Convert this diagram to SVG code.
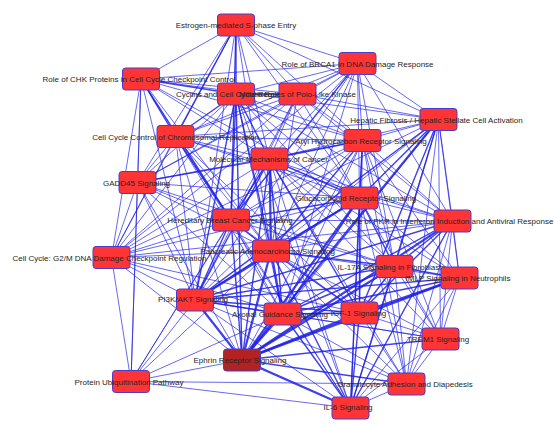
<svg xmlns="http://www.w3.org/2000/svg" width="554" height="426" viewBox="0 0 554 426">
<style>
.bg{fill:#ffffff}
#edges line{stroke:#1f1fe6;stroke-opacity:0.85;stroke-width:0.8;stroke-linecap:round}
#edges line.m{stroke-width:1.4}
#edges line.t{stroke-width:2.2}
.n rect{fill:#ff3434;stroke:#4a3ccf;stroke-width:1}
.n.dark rect{fill:#b22222}
.n text{font-family:"Liberation Sans",Arial,sans-serif;font-size:8px;fill:#262626;text-anchor:middle}
</style>
<rect class="bg" x="0" y="0" width="554" height="426"/>
<g id="edges">
<line x1="236" y1="25" x2="141" y2="79"/>
<line x1="236" y1="25" x2="236" y2="94" class="m"/>
<line x1="236" y1="25" x2="297.5" y2="94"/>
<line x1="236" y1="25" x2="357.5" y2="63.5"/>
<line x1="236" y1="25" x2="175.5" y2="136.5" class="m"/>
<line x1="236" y1="25" x2="137.5" y2="182.5"/>
<line x1="236" y1="25" x2="269.5" y2="159"/>
<line x1="236" y1="25" x2="231" y2="220" class="m"/>
<line x1="236" y1="25" x2="111.5" y2="257.5"/>
<line x1="236" y1="25" x2="271" y2="251"/>
<line x1="236" y1="25" x2="362.5" y2="140.5"/>
<line x1="236" y1="25" x2="359.5" y2="198"/>
<line x1="236" y1="25" x2="195" y2="300"/>
<line x1="236" y1="25" x2="438.5" y2="119.5"/>
<line x1="141" y1="79" x2="236" y2="94" class="m"/>
<line x1="141" y1="79" x2="297.5" y2="94"/>
<line x1="141" y1="79" x2="357.5" y2="63.5"/>
<line x1="141" y1="79" x2="175.5" y2="136.5" class="m"/>
<line x1="141" y1="79" x2="137.5" y2="182.5"/>
<line x1="141" y1="79" x2="269.5" y2="159"/>
<line x1="141" y1="79" x2="231" y2="220" class="m"/>
<line x1="141" y1="79" x2="111.5" y2="257.5"/>
<line x1="141" y1="79" x2="271" y2="251"/>
<line x1="141" y1="79" x2="362.5" y2="140.5"/>
<line x1="141" y1="79" x2="195" y2="300"/>
<line x1="141" y1="79" x2="131" y2="381.5"/>
<line x1="141" y1="79" x2="359.5" y2="198"/>
<line x1="141" y1="79" x2="438.5" y2="119.5"/>
<line x1="236" y1="94" x2="297.5" y2="94" class="m"/>
<line x1="236" y1="94" x2="357.5" y2="63.5"/>
<line x1="236" y1="94" x2="175.5" y2="136.5" class="m"/>
<line x1="236" y1="94" x2="137.5" y2="182.5"/>
<line x1="236" y1="94" x2="269.5" y2="159" class="m"/>
<line x1="236" y1="94" x2="231" y2="220" class="m"/>
<line x1="236" y1="94" x2="111.5" y2="257.5"/>
<line x1="236" y1="94" x2="271" y2="251" class="m"/>
<line x1="236" y1="94" x2="362.5" y2="140.5"/>
<line x1="236" y1="94" x2="359.5" y2="198"/>
<line x1="236" y1="94" x2="195" y2="300" class="m"/>
<line x1="236" y1="94" x2="282.5" y2="314"/>
<line x1="236" y1="94" x2="394.5" y2="266.5"/>
<line x1="236" y1="94" x2="242" y2="360" class="m"/>
<line x1="236" y1="94" x2="350.5" y2="408"/>
<line x1="236" y1="94" x2="452.5" y2="221"/>
<line x1="297.5" y1="94" x2="357.5" y2="63.5"/>
<line x1="297.5" y1="94" x2="175.5" y2="136.5"/>
<line x1="297.5" y1="94" x2="137.5" y2="182.5"/>
<line x1="297.5" y1="94" x2="269.5" y2="159"/>
<line x1="297.5" y1="94" x2="231" y2="220"/>
<line x1="297.5" y1="94" x2="111.5" y2="257.5"/>
<line x1="297.5" y1="94" x2="271" y2="251"/>
<line x1="297.5" y1="94" x2="362.5" y2="140.5"/>
<line x1="297.5" y1="94" x2="359.5" y2="198"/>
<line x1="297.5" y1="94" x2="195" y2="300"/>
<line x1="297.5" y1="94" x2="438.5" y2="119.5"/>
<line x1="297.5" y1="94" x2="452.5" y2="221"/>
<line x1="357.5" y1="63.5" x2="175.5" y2="136.5"/>
<line x1="357.5" y1="63.5" x2="269.5" y2="159"/>
<line x1="357.5" y1="63.5" x2="231" y2="220" class="m"/>
<line x1="357.5" y1="63.5" x2="137.5" y2="182.5"/>
<line x1="357.5" y1="63.5" x2="111.5" y2="257.5"/>
<line x1="357.5" y1="63.5" x2="362.5" y2="140.5"/>
<line x1="357.5" y1="63.5" x2="359.5" y2="198"/>
<line x1="357.5" y1="63.5" x2="438.5" y2="119.5"/>
<line x1="357.5" y1="63.5" x2="452.5" y2="221"/>
<line x1="357.5" y1="63.5" x2="271" y2="251"/>
<line x1="357.5" y1="63.5" x2="195" y2="300"/>
<line x1="357.5" y1="63.5" x2="394.5" y2="266.5"/>
<line x1="357.5" y1="63.5" x2="282.5" y2="314"/>
<line x1="438.5" y1="119.5" x2="362.5" y2="140.5"/>
<line x1="438.5" y1="119.5" x2="359.5" y2="198" class="m"/>
<line x1="438.5" y1="119.5" x2="452.5" y2="221"/>
<line x1="438.5" y1="119.5" x2="459.5" y2="278"/>
<line x1="438.5" y1="119.5" x2="394.5" y2="266.5" class="m"/>
<line x1="438.5" y1="119.5" x2="359.5" y2="313" class="m"/>
<line x1="438.5" y1="119.5" x2="440.5" y2="339"/>
<line x1="438.5" y1="119.5" x2="406.5" y2="384"/>
<line x1="438.5" y1="119.5" x2="350.5" y2="408"/>
<line x1="438.5" y1="119.5" x2="282.5" y2="314"/>
<line x1="438.5" y1="119.5" x2="242" y2="360" class="t"/>
<line x1="438.5" y1="119.5" x2="271" y2="251"/>
<line x1="438.5" y1="119.5" x2="269.5" y2="159"/>
<line x1="438.5" y1="119.5" x2="195" y2="300" class="m"/>
<line x1="438.5" y1="119.5" x2="231" y2="220"/>
<line x1="438.5" y1="119.5" x2="175.5" y2="136.5"/>
<line x1="175.5" y1="136.5" x2="137.5" y2="182.5"/>
<line x1="175.5" y1="136.5" x2="269.5" y2="159"/>
<line x1="175.5" y1="136.5" x2="231" y2="220" class="m"/>
<line x1="175.5" y1="136.5" x2="111.5" y2="257.5"/>
<line x1="175.5" y1="136.5" x2="271" y2="251"/>
<line x1="175.5" y1="136.5" x2="362.5" y2="140.5"/>
<line x1="175.5" y1="136.5" x2="359.5" y2="198"/>
<line x1="175.5" y1="136.5" x2="195" y2="300"/>
<line x1="175.5" y1="136.5" x2="282.5" y2="314"/>
<line x1="175.5" y1="136.5" x2="242" y2="360"/>
<line x1="175.5" y1="136.5" x2="350.5" y2="408"/>
<line x1="175.5" y1="136.5" x2="452.5" y2="221"/>
<line x1="175.5" y1="136.5" x2="359.5" y2="313"/>
<line x1="362.5" y1="140.5" x2="269.5" y2="159" class="m"/>
<line x1="362.5" y1="140.5" x2="359.5" y2="198" class="m"/>
<line x1="362.5" y1="140.5" x2="231" y2="220"/>
<line x1="362.5" y1="140.5" x2="271" y2="251" class="m"/>
<line x1="362.5" y1="140.5" x2="452.5" y2="221"/>
<line x1="362.5" y1="140.5" x2="394.5" y2="266.5"/>
<line x1="362.5" y1="140.5" x2="459.5" y2="278"/>
<line x1="362.5" y1="140.5" x2="359.5" y2="313"/>
<line x1="362.5" y1="140.5" x2="440.5" y2="339"/>
<line x1="362.5" y1="140.5" x2="406.5" y2="384"/>
<line x1="362.5" y1="140.5" x2="350.5" y2="408"/>
<line x1="362.5" y1="140.5" x2="282.5" y2="314"/>
<line x1="362.5" y1="140.5" x2="242" y2="360"/>
<line x1="362.5" y1="140.5" x2="195" y2="300"/>
<line x1="362.5" y1="140.5" x2="137.5" y2="182.5"/>
<line x1="362.5" y1="140.5" x2="111.5" y2="257.5"/>
<line x1="269.5" y1="159" x2="137.5" y2="182.5" class="m"/>
<line x1="269.5" y1="159" x2="359.5" y2="198" class="m"/>
<line x1="269.5" y1="159" x2="231" y2="220" class="m"/>
<line x1="269.5" y1="159" x2="452.5" y2="221"/>
<line x1="269.5" y1="159" x2="111.5" y2="257.5"/>
<line x1="269.5" y1="159" x2="271" y2="251" class="t"/>
<line x1="269.5" y1="159" x2="394.5" y2="266.5"/>
<line x1="269.5" y1="159" x2="459.5" y2="278"/>
<line x1="269.5" y1="159" x2="195" y2="300" class="m"/>
<line x1="269.5" y1="159" x2="282.5" y2="314" class="m"/>
<line x1="269.5" y1="159" x2="359.5" y2="313" class="m"/>
<line x1="269.5" y1="159" x2="440.5" y2="339"/>
<line x1="269.5" y1="159" x2="242" y2="360" class="m"/>
<line x1="269.5" y1="159" x2="406.5" y2="384"/>
<line x1="269.5" y1="159" x2="350.5" y2="408"/>
<line x1="269.5" y1="159" x2="131" y2="381.5"/>
<line x1="137.5" y1="182.5" x2="231" y2="220"/>
<line x1="137.5" y1="182.5" x2="111.5" y2="257.5"/>
<line x1="137.5" y1="182.5" x2="271" y2="251"/>
<line x1="137.5" y1="182.5" x2="359.5" y2="198"/>
<line x1="137.5" y1="182.5" x2="195" y2="300"/>
<line x1="137.5" y1="182.5" x2="282.5" y2="314"/>
<line x1="137.5" y1="182.5" x2="242" y2="360"/>
<line x1="137.5" y1="182.5" x2="394.5" y2="266.5"/>
<line x1="137.5" y1="182.5" x2="131" y2="381.5"/>
<line x1="359.5" y1="198" x2="231" y2="220" class="m"/>
<line x1="359.5" y1="198" x2="452.5" y2="221"/>
<line x1="359.5" y1="198" x2="271" y2="251" class="m"/>
<line x1="359.5" y1="198" x2="394.5" y2="266.5" class="m"/>
<line x1="359.5" y1="198" x2="459.5" y2="278"/>
<line x1="359.5" y1="198" x2="195" y2="300" class="t"/>
<line x1="359.5" y1="198" x2="282.5" y2="314" class="m"/>
<line x1="359.5" y1="198" x2="359.5" y2="313" class="m"/>
<line x1="359.5" y1="198" x2="440.5" y2="339"/>
<line x1="359.5" y1="198" x2="242" y2="360" class="t"/>
<line x1="359.5" y1="198" x2="406.5" y2="384"/>
<line x1="359.5" y1="198" x2="350.5" y2="408" class="m"/>
<line x1="359.5" y1="198" x2="111.5" y2="257.5"/>
<line x1="231" y1="220" x2="111.5" y2="257.5"/>
<line x1="231" y1="220" x2="271" y2="251" class="m"/>
<line x1="231" y1="220" x2="195" y2="300" class="m"/>
<line x1="231" y1="220" x2="282.5" y2="314"/>
<line x1="231" y1="220" x2="359.5" y2="313"/>
<line x1="231" y1="220" x2="242" y2="360" class="m"/>
<line x1="231" y1="220" x2="350.5" y2="408"/>
<line x1="231" y1="220" x2="131" y2="381.5"/>
<line x1="231" y1="220" x2="452.5" y2="221"/>
<line x1="231" y1="220" x2="394.5" y2="266.5"/>
<line x1="452.5" y1="221" x2="271" y2="251"/>
<line x1="452.5" y1="221" x2="394.5" y2="266.5" class="m"/>
<line x1="452.5" y1="221" x2="459.5" y2="278"/>
<line x1="452.5" y1="221" x2="195" y2="300" class="m"/>
<line x1="452.5" y1="221" x2="282.5" y2="314" class="m"/>
<line x1="452.5" y1="221" x2="359.5" y2="313" class="m"/>
<line x1="452.5" y1="221" x2="440.5" y2="339"/>
<line x1="452.5" y1="221" x2="242" y2="360" class="t"/>
<line x1="452.5" y1="221" x2="406.5" y2="384"/>
<line x1="452.5" y1="221" x2="350.5" y2="408" class="m"/>
<line x1="452.5" y1="221" x2="111.5" y2="257.5"/>
<line x1="111.5" y1="257.5" x2="271" y2="251"/>
<line x1="111.5" y1="257.5" x2="195" y2="300"/>
<line x1="111.5" y1="257.5" x2="131" y2="381.5"/>
<line x1="111.5" y1="257.5" x2="282.5" y2="314"/>
<line x1="111.5" y1="257.5" x2="242" y2="360"/>
<line x1="111.5" y1="257.5" x2="359.5" y2="313"/>
<line x1="271" y1="251" x2="394.5" y2="266.5" class="m"/>
<line x1="271" y1="251" x2="459.5" y2="278"/>
<line x1="271" y1="251" x2="195" y2="300" class="m"/>
<line x1="271" y1="251" x2="282.5" y2="314" class="t"/>
<line x1="271" y1="251" x2="359.5" y2="313" class="m"/>
<line x1="271" y1="251" x2="440.5" y2="339"/>
<line x1="271" y1="251" x2="242" y2="360" class="t"/>
<line x1="271" y1="251" x2="406.5" y2="384"/>
<line x1="271" y1="251" x2="350.5" y2="408" class="m"/>
<line x1="271" y1="251" x2="131" y2="381.5"/>
<line x1="394.5" y1="266.5" x2="459.5" y2="278" class="m"/>
<line x1="394.5" y1="266.5" x2="195" y2="300" class="m"/>
<line x1="394.5" y1="266.5" x2="282.5" y2="314" class="m"/>
<line x1="394.5" y1="266.5" x2="359.5" y2="313" class="m"/>
<line x1="394.5" y1="266.5" x2="440.5" y2="339"/>
<line x1="394.5" y1="266.5" x2="242" y2="360" class="t"/>
<line x1="394.5" y1="266.5" x2="406.5" y2="384"/>
<line x1="394.5" y1="266.5" x2="350.5" y2="408" class="m"/>
<line x1="459.5" y1="278" x2="195" y2="300" class="m"/>
<line x1="459.5" y1="278" x2="282.5" y2="314" class="m"/>
<line x1="459.5" y1="278" x2="359.5" y2="313" class="t"/>
<line x1="459.5" y1="278" x2="440.5" y2="339"/>
<line x1="459.5" y1="278" x2="242" y2="360" class="t"/>
<line x1="459.5" y1="278" x2="406.5" y2="384"/>
<line x1="459.5" y1="278" x2="350.5" y2="408"/>
<line x1="195" y1="300" x2="282.5" y2="314" class="m"/>
<line x1="195" y1="300" x2="359.5" y2="313" class="m"/>
<line x1="195" y1="300" x2="440.5" y2="339"/>
<line x1="195" y1="300" x2="242" y2="360" class="t"/>
<line x1="195" y1="300" x2="131" y2="381.5"/>
<line x1="195" y1="300" x2="350.5" y2="408"/>
<line x1="195" y1="300" x2="406.5" y2="384"/>
<line x1="282.5" y1="314" x2="359.5" y2="313" class="m"/>
<line x1="282.5" y1="314" x2="242" y2="360" class="t"/>
<line x1="282.5" y1="314" x2="440.5" y2="339"/>
<line x1="282.5" y1="314" x2="406.5" y2="384"/>
<line x1="282.5" y1="314" x2="350.5" y2="408" class="m"/>
<line x1="282.5" y1="314" x2="131" y2="381.5"/>
<line x1="359.5" y1="313" x2="440.5" y2="339"/>
<line x1="359.5" y1="313" x2="242" y2="360" class="t"/>
<line x1="359.5" y1="313" x2="406.5" y2="384"/>
<line x1="359.5" y1="313" x2="350.5" y2="408" class="m"/>
<line x1="440.5" y1="339" x2="242" y2="360" class="m"/>
<line x1="440.5" y1="339" x2="406.5" y2="384"/>
<line x1="440.5" y1="339" x2="350.5" y2="408"/>
<line x1="242" y1="360" x2="131" y2="381.5"/>
<line x1="242" y1="360" x2="406.5" y2="384" class="m"/>
<line x1="242" y1="360" x2="350.5" y2="408" class="t"/>
<line x1="131" y1="381.5" x2="406.5" y2="384"/>
<line x1="131" y1="381.5" x2="350.5" y2="408"/>
<line x1="406.5" y1="384" x2="350.5" y2="408"/>
</g>
<g id="node-est" class="n"><rect x="217.5" y="14" width="37" height="22" rx="3"/><text x="236" y="28">Estrogen-mediated S-phase Entry</text></g>
<g id="node-chk" class="n"><rect x="122.5" y="68" width="37" height="22" rx="3"/><text x="139" y="82">Role of CHK Proteins in Cell Cycle Checkpoint Control</text></g>
<g id="node-cyc" class="n"><rect x="217.5" y="83" width="37" height="22" rx="3"/><text x="236" y="97">Cyclins and Cell Cycle Regulation</text></g>
<g id="node-polo" class="n"><rect x="279" y="83" width="37" height="22" rx="3"/><text x="297.5" y="97">Mitotic Roles of Polo-Like Kinase</text></g>
<g id="node-brca1" class="n"><rect x="339" y="52.5" width="37" height="22" rx="3"/><text x="357.5" y="66.5">Role of BRCA1 in DNA Damage Response</text></g>
<g id="node-hep" class="n"><rect x="420" y="108.5" width="37" height="22" rx="3"/><text x="436.5" y="122.5">Hepatic Fibrosis / Hepatic Stellate Cell Activation</text></g>
<g id="node-ccr" class="n"><rect x="157" y="125.5" width="37" height="22" rx="3"/><text x="175.5" y="139.5">Cell Cycle Control of Chromosomal Replication</text></g>
<g id="node-aryl" class="n"><rect x="344" y="129.5" width="37" height="22" rx="3"/><text x="361" y="143.5">Aryl Hydrocarbon Receptor Signaling</text></g>
<g id="node-mol" class="n"><rect x="251" y="148" width="37" height="22" rx="3"/><text x="268.5" y="162">Molecular Mechanisms of Cancer</text></g>
<g id="node-gadd" class="n"><rect x="119" y="171.5" width="37" height="22" rx="3"/><text x="136.5" y="185.5">GADD45 Signaling</text></g>
<g id="node-gluc" class="n"><rect x="341" y="187" width="37" height="22" rx="3"/><text x="356" y="201">Glucocorticoid Receptor Signaling</text></g>
<g id="node-hbc" class="n"><rect x="212.5" y="209" width="37" height="22" rx="3"/><text x="230" y="223">Hereditary Breast Cancer Signaling</text></g>
<g id="node-pkr" class="n"><rect x="434" y="210" width="37" height="22" rx="3"/><text x="449.5" y="224">Role of PKR in Interferon Induction and Antiviral Response</text></g>
<g id="node-g2m" class="n"><rect x="93" y="246.5" width="37" height="22" rx="3"/><text x="109.5" y="260.5">Cell Cycle: G2/M DNA Damage Checkpoint Regulation</text></g>
<g id="node-panc" class="n"><rect x="252.5" y="240" width="37" height="22" rx="3"/><text x="267.5" y="254">Pancreatic Adenocarcinoma Signaling</text></g>
<g id="node-il17" class="n"><rect x="376" y="255.5" width="37" height="22" rx="3"/><text x="391.5" y="269.5">IL-17A Signaling in Fibroblasts</text></g>
<g id="node-fmlp" class="n"><rect x="441" y="267" width="37" height="22" rx="3"/><text x="458" y="281">fMLP Signaling in Neutrophils</text></g>
<g id="node-pi3k" class="n"><rect x="176.5" y="289" width="37" height="22" rx="3"/><text x="193" y="302">PI3K/AKT Signaling</text></g>
<g id="node-axon" class="n"><rect x="264" y="303" width="37" height="22" rx="3"/><text x="280" y="317">Axonal Guidance Signaling</text></g>
<g id="node-igf" class="n"><rect x="341" y="302" width="37" height="22" rx="3"/><text x="358.5" y="316">IGF-1 Signaling</text></g>
<g id="node-trem" class="n"><rect x="422" y="328" width="37" height="22" rx="3"/><text x="438" y="342">TREM1 Signaling</text></g>
<g id="node-eph" class="n dark"><rect x="223.5" y="349" width="37" height="22" rx="3"/><text x="240" y="363">Ephrin Receptor Signaling</text></g>
<g id="node-pub" class="n"><rect x="112.5" y="370.5" width="37" height="22" rx="3"/><text x="129" y="384.5">Protein Ubiquitination Pathway</text></g>
<g id="node-gran" class="n"><rect x="388" y="373" width="37" height="22" rx="3"/><text x="405" y="387">Granulocyte Adhesion and Diapedesis</text></g>
<g id="node-il6" class="n"><rect x="332" y="397" width="37" height="22" rx="3"/><text x="348" y="410">IL-6 Signaling</text></g>
</svg>
